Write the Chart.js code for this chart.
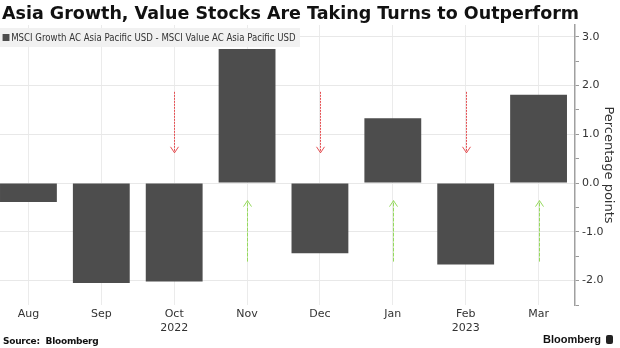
<!DOCTYPE html>
<html>
<head>
<meta charset="utf-8">
<script src="https://cdn.jsdelivr.net/npm/chart.js@4.4.1/dist/chart.umd.min.js"></script>
<style>
  html, body { margin: 0; padding: 0; background: #fff; }
  body { width: 620px; height: 348px; position: relative; overflow: hidden; }
  #title { position: absolute; left: 2px; top: 3px; font: bold 17.5px "DejaVu Sans", sans-serif; color: #111; white-space: nowrap; }
  #legend { position: absolute; left: 0; top: 28px; width: 300px; height: 19px; background: rgba(240,240,240,0.92);
            font: 10px "DejaVu Sans", sans-serif; color: #333; line-height: 19px; white-space: nowrap; }
  #legend span { display: inline-block; transform: scaleX(0.86); transform-origin: left center; }
  #legend i { display: inline-block; width: 8px; height: 7px; background: #4d4d4d; margin: 0 2px 0 3px; }
  #wrap { position: absolute; left: -8px; top: 0; width: 628px; height: 348px; }
  #source { position: absolute; left: 3px; top: 336px; font: bold 9px "DejaVu Sans", sans-serif; letter-spacing: -0.25px; color: #111; white-space: pre; }
  #brand { position: absolute; left: 543px; top: 333px; font: bold 11px "Liberation Sans", sans-serif; color: #111; white-space: nowrap; }
  #brand b { display: inline-block; width: 7px; height: 9px; background: #222; border-radius: 2px; margin-left: 5px; vertical-align: -1px; }
</style>
</head>
<body>
<div id="wrap"><canvas id="chart"></canvas></div>
<div id="title">Asia Growth, Value Stocks Are Taking Turns to Outperform</div>
<div id="legend"><span><i></i>MSCI Growth AC Asia Pacific USD - MSCI Value AC Asia Pacific USD</span></div>
<div id="source">Source:  Bloomberg</div>
<div id="brand">Bloomberg<b></b></div>
<script>
// data
const months = ["Aug", "Sep", "Oct", "Nov", "Dec", "Jan", "Feb", "Mar"];
const years = ["", "", "2022", "", "", "", "2023", ""];
const spread = [-0.39, -2.05, -2.02, 2.75, -1.44, 1.33, -1.67, 1.81];
// y ticks: labelled on whole numbers, minor marks on the halves
const yTicks = [-2.5, -2, -1.5, -1, -0.5, 0, 0.5, 1, 1.5, 2, 2.5, 3];

// arrows: which months, and from/to in percentage points
const downArrowMonths = ["Oct", "Dec", "Feb"];
const downArrowRange = [1.87, 0.62];
const upArrowMonths = ["Nov", "Jan", "Mar"];
const upArrowRange = [-1.61, -0.36];

const labels = months.map((m, i) => years[i] ? [m, years[i]] : m);
const tickFont = { family: "'DejaVu Sans', sans-serif", size: 11 };
const isWhole = v => Math.abs(v - Math.round(v)) < 1e-6;

// draws the dotted arrows through the chart's scales
const arrowPlugin = {
    id: "arrows",
    afterDatasetsDraw(chart) {
        const { ctx, scales: { x, y } } = chart;
        const draw = (list, range, color, dash) => {
            list.forEach(m => {
                const px = Math.round(x.getPixelForValue(months.indexOf(m))) + 0.5;
                const y0 = y.getPixelForValue(range[0]);
                const y1 = y.getPixelForValue(range[1]);
                const dir = y1 > y0 ? 1 : -1;
                ctx.save();
                ctx.strokeStyle = color;
                ctx.lineWidth = 1;
                ctx.setLineDash(dash);
                ctx.beginPath();
                ctx.moveTo(px, y0);
                ctx.lineTo(px, y1);
                ctx.stroke();
                ctx.setLineDash([]);
                ctx.beginPath();
                ctx.moveTo(px - 4, y1 - dir * 6);
                ctx.lineTo(px, y1);
                ctx.lineTo(px + 4, y1 - dir * 6);
                ctx.stroke();
                ctx.restore();
            });
        };
        draw(downArrowMonths, downArrowRange, "#e54f52", [2, 1]);
        draw(upArrowMonths, upArrowRange, "#96d95e", [4, 1]);
    }
};

new Chart(document.getElementById("chart"), {
    type: "bar",
    data: {
        labels: labels,
        datasets: [{
            label: "MSCI Growth AC Asia Pacific USD - MSCI Value AC Asia Pacific USD",
            data: spread,
            backgroundColor: "#4d4d4d",
            categoryPercentage: 1,
            barPercentage: 0.78,
        }],
    },
    options: {
        responsive: true,
        maintainAspectRatio: false,
        animation: false,
        layout: { padding: { top: 25, bottom: 9, left: 0, right: 0 } },
        plugins: { legend: { display: false }, tooltip: { enabled: false } },
        scales: {
            x: {
                afterFit(scale) { scale.height = 34; },
                grid: { offset: false, color: "#ebebeb", drawTicks: false },
                border: { display: false },
                ticks: { font: tickFont, color: "#333", padding: 3, maxRotation: 0, autoSkip: false },
            },
            y: {
                position: "right",
                min: -2.5,
                max: 3.24,
                afterFit(scale) { scale.width = 45; },
                afterBuildTicks(scale) { scale.ticks = yTicks.map(v => ({ value: v })); },
                grid: {
                    color: c => isWhole(c.tick.value) ? "#e8e8e8" : "rgba(0,0,0,0)",
                    tickColor: "#999",
                    tickLength: 4,
                },
                border: { color: "#a0a0a0", width: 1.5 },
                ticks: {
                    autoSkip: false,
                    padding: 3,
                    font: tickFont,
                    color: "#333",
                    callback: v => isWhole(v) ? v.toFixed(1) : "",
                },
                title: { display: true, text: "Percentage points", color: "#333",
                         font: { family: "'DejaVu Sans', sans-serif", size: 13 }, padding: { top: 4, bottom: 0 } },
            },
        },
    },
    plugins: [arrowPlugin],
});
</script>
</body>
</html>
